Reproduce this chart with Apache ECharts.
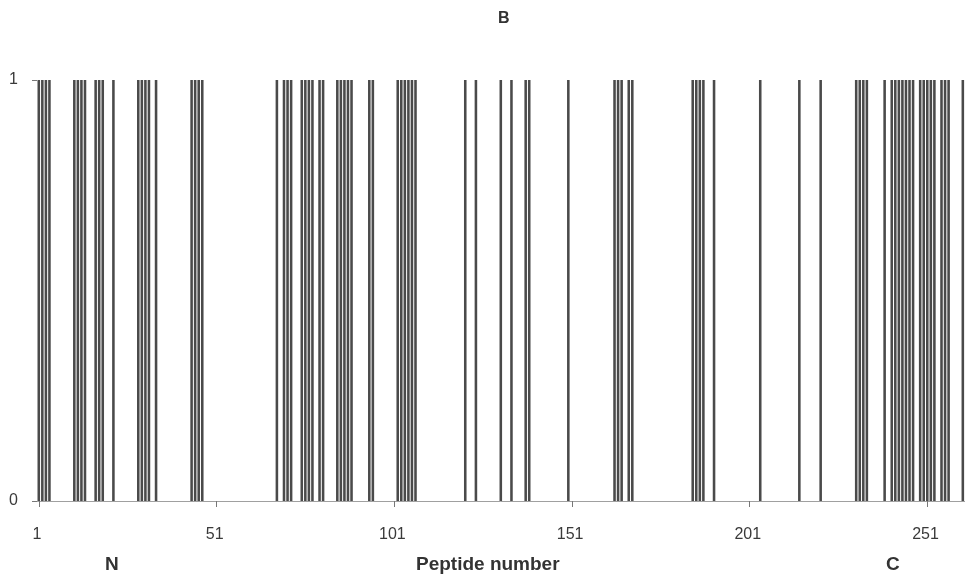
<!DOCTYPE html>
<html>
<head>
<meta charset="utf-8">
<script src="https://cdn.jsdelivr.net/npm/echarts@6/dist/echarts.min.js"></script>
<style>
html,body{margin:0;padding:0;background:#fff;}
#chart{width:970px;height:579px;}
</style>
</head>
<body>
<div id="chart"></div>
<script>
// Peptide numbers 1..261 on the x axis
const peptideCount = 261;
const categories = Array.from({length: peptideCount}, (_, i) => String(i + 1));
// Peptides with value 1 (all others are 0)
const positivePeptides = [
  1,2,3,4, 11,12,13,14, 17,18,19, 22, 29,30,31,32, 34, 44,45,46,47,
  68, 70,71,72, 75,76,77,78, 80,81, 85,86,87,88,89, 94,95,
  102,103,104,105,106,107, 121, 124, 131, 134, 138,139, 150,
  163,164,165, 167,168, 185,186,187,188, 191, 204, 215, 221,
  231,232,233,234, 239, 241,242,243,244,245,246,247,
  249,250,251,252,253, 255,256,257, 261
];
const values = categories.map(c => positivePeptides.includes(Number(c)) ? 1 : 0);
const xTickLabels = ['1','51','101','151','201','251'];
const yTickLabels = [0, 1];

const chart = echarts.init(document.getElementById('chart'), null, {renderer: 'canvas'});
const font = 'Liberation Sans, Arial, sans-serif';
chart.setOption({
  animation: false,
  backgroundColor: '#ffffff',
  grid: {left: 37, right: 5.4, top: 80, bottom: 78, containLabel: false},
  xAxis: {
    type: 'category',
    data: categories,
    boundaryGap: true,
    axisLine: {show: true, lineStyle: {color: '#a0a0a0', width: 1}},
    axisTick: {
      show: true, alignWithLabel: true, length: 6,
      interval: (i, v) => xTickLabels.includes(v),
      lineStyle: {color: '#777'}
    },
    axisLabel: {
      interval: (i, v) => xTickLabels.includes(v),
      color: '#3a3a3a', fontFamily: font, fontSize: 16, margin: 26,
      padding: [0, 3.6, 0, 0]
    },
    splitLine: {show: false}
  },
  yAxis: {
    type: 'value', min: yTickLabels[0], max: yTickLabels[1], interval: 1,
    axisLine: {show: false},
    axisTick: {show: true, length: 5, lineStyle: {color: '#777'}},
    axisLabel: {color: '#3a3a3a', fontFamily: font, fontSize: 16, margin: 19},
    splitLine: {show: false}
  },
  series: [{
    type: 'bar',
    data: values,
    barCategoryGap: '28%',
    itemStyle: {color: '#4a4a4a', borderWidth: 0}
  }],
  graphic: [
    {type: 'text', left: 498, top: 11, style: {text: 'B', font: 'bold 16px ' + font, fill: '#333'}},
    {type: 'text', left: 105, top: 555, style: {text: 'N', font: 'bold 19px ' + font, fill: '#333'}},
    {type: 'text', left: 416, top: 555, style: {text: 'Peptide number', font: 'bold 19px ' + font, fill: '#333'}},
    {type: 'text', left: 886, top: 555, style: {text: 'C', font: 'bold 19px ' + font, fill: '#333'}}
  ]
});
</script>
</body>
</html>
